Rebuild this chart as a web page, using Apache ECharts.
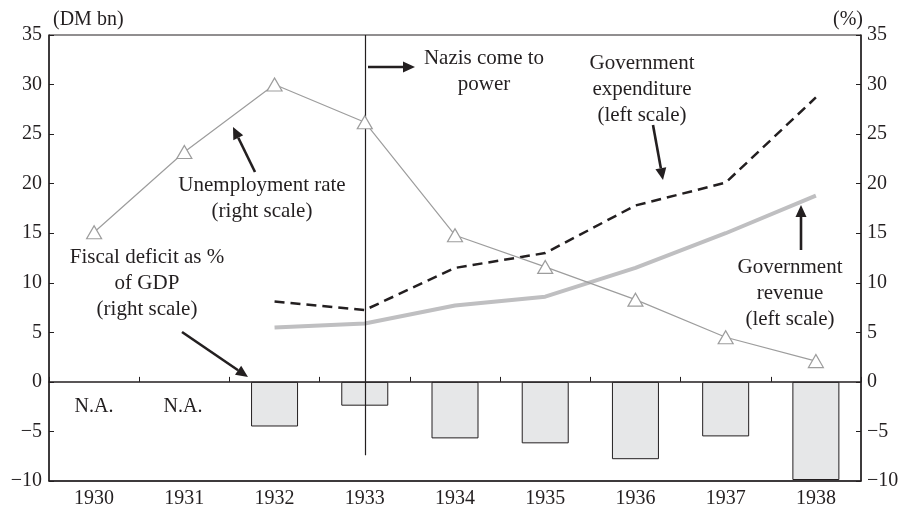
<!DOCTYPE html>
<html>
<head>
<meta charset="utf-8">
<script src="https://cdn.jsdelivr.net/npm/echarts@6/dist/echarts.min.js"></script>
<style>
  html, body { margin: 0; padding: 0; background: #fff; }
  #main { width: 908px; height: 506px; }
</style>
</head>
<body>
<div id="main"></div>
<script>
// data
const years = ['1930', '1931', '1932', '1933', '1934', '1935', '1936', '1937', '1938'];
const deficitPct = [null, null, -4.5, -2.4, -5.7, -6.2, -7.8, -5.5, -9.9];   // right scale
const unemploymentPct = [15.1, 23.2, 30.0, 26.2, 14.8, 11.6, 8.3, 4.5, 2.1]; // right scale
const govExpenditure = [null, null, 8.1, 7.25, 11.5, 13.0, 17.8, 20.1, 28.7]; // left scale
const govRevenue = [null, null, 5.5, 5.9, 7.7, 8.6, 11.5, 15.0, 18.8];        // left scale
const yMin = -10, yMax = 35, yStep = 5;

const ink = '#231f20';
const serif = '"Liberation Serif", "DejaVu Serif", serif';

function arrow(x1, y1, x2, y2) {
    const a = Math.atan2(y2 - y1, x2 - x1), L = 12, W = 5.5;
    const bx = x2 - L * Math.cos(a), by = y2 - L * Math.sin(a);
    const px = -Math.sin(a), py = Math.cos(a);
    return [
        { type: 'line', silent: true, shape: { x1: x1, y1: y1, x2: bx, y2: by },
          style: { stroke: ink, lineWidth: 2.6 } },
        { type: 'polygon', silent: true,
          shape: { points: [[x2, y2], [bx + W * px, by + W * py], [bx - W * px, by - W * py]] },
          style: { fill: ink } }
    ];
}

function note(text, x, y, size) {
    return { type: 'text', silent: true, x: x, y: y,
        style: { text: text, fill: ink, fontFamily: serif, fontSize: size || 21, lineHeight: 26,
                 textAlign: 'center', textVerticalAlign: 'middle' } };
}

var myChart = echarts.init(document.getElementById('main'));

const yAxisCommon = {
    type: 'value', min: yMin, max: yMax, interval: yStep,
    splitLine: { show: false },
    axisLine: { show: true, lineStyle: { color: ink, width: 1.5 } },
    axisTick: { show: true, inside: true, length: 5, lineStyle: { color: ink } },
    axisLabel: { color: ink, fontFamily: serif, fontSize: 20,
        formatter: v => (v < 0 ? '\u2212' + Math.abs(v) : '' + v) }
};

var option = {
    animation: false,
    backgroundColor: '#fff',
    grid: { left: 49, right: 47, top: 35, bottom: 25, show: true, borderColor: ink, borderWidth: 1,
            outerBoundsMode: 'none' },
    xAxis: [
        {
            type: 'category', data: years, position: 'bottom',
            axisLine: { onZero: false, lineStyle: { color: ink, width: 1.5 } },
            axisTick: { show: false },
            axisLabel: { color: ink, fontFamily: serif, fontSize: 20, margin: 8 }
        },
        {
            type: 'category', data: years, position: 'bottom',
            axisLine: { onZero: true, onZeroAxisIndex: 0, lineStyle: { color: ink, width: 1.5 } },
            axisTick: { show: true, inside: true, length: 5, lineStyle: { color: ink } },
            axisLabel: { show: false }
        }
    ],
    yAxis: [
        Object.assign({}, yAxisCommon, { position: 'left',
            axisLabel: Object.assign({}, yAxisCommon.axisLabel, { margin: 7 }) }),
        Object.assign({}, yAxisCommon, { position: 'right',
            axisLabel: Object.assign({}, yAxisCommon.axisLabel, { margin: 6 }) })
    ],
    series: [
        {
            name: 'Fiscal deficit as % of GDP',
            type: 'bar', xAxisIndex: 0, yAxisIndex: 1,
            data: deficitPct, barWidth: 47,
            itemStyle: { color: '#e6e7e8', borderColor: ink, borderWidth: 1 },
            markLine: {
                silent: true, symbol: 'none', label: { show: false },
                lineStyle: { color: ink, width: 1.2, type: 'solid' },
                data: [[{ coord: ['1933', yMax] }, { coord: ['1933', -7.4] }]]
            }
        },
        {
            name: 'Government revenue',
            type: 'line', yAxisIndex: 0, data: govRevenue,
            symbol: 'none', lineStyle: { color: '#bfbfc1', width: 4 }, z: 3
        },
        {
            name: 'Government expenditure',
            type: 'line', yAxisIndex: 0, data: govExpenditure,
            symbol: 'none', lineStyle: { color: ink, width: 2.5, type: [10, 6] }, z: 4
        },
        {
            name: 'Unemployment rate',
            type: 'line', yAxisIndex: 1, data: unemploymentPct,
            symbol: 'triangle', symbolSize: [15, 13],
            lineStyle: { color: '#9d9d9d', width: 1.2 },
            itemStyle: { color: '#fff', borderColor: '#9d9d9d', borderWidth: 1.2 }, z: 5
        }
    ],
    graphic: [].concat(
        [
            { type: 'text', silent: true, x: 53, y: 20,
              style: { text: '(DM bn)', fill: ink, fontFamily: serif, fontSize: 20, textVerticalAlign: 'middle' } },
            { type: 'text', silent: true, x: 863, y: 20,
              style: { text: '(%)', fill: ink, fontFamily: serif, fontSize: 20, textAlign: 'right', textVerticalAlign: 'middle' } },
            note('Nazis come to\npower', 484, 71),
            note('Government\nexpenditure\n(left scale)', 642, 89),
            note('Unemployment rate\n(right scale)', 262, 198),
            note('Fiscal deficit as %\nof GDP\n(right scale)', 147, 283),
            note('Government\nrevenue\n(left scale)', 790, 293),
            note('N.A.', 94, 407, 20),
            note('N.A.', 183, 407, 20)
        ],
        arrow(368, 67, 415, 67),
        arrow(653, 125, 663, 180),
        arrow(255, 172, 233, 127),
        arrow(182, 332, 248, 377),
        arrow(801, 250, 801, 205)
    )
};

myChart.setOption(option);
</script>
</body>
</html>
